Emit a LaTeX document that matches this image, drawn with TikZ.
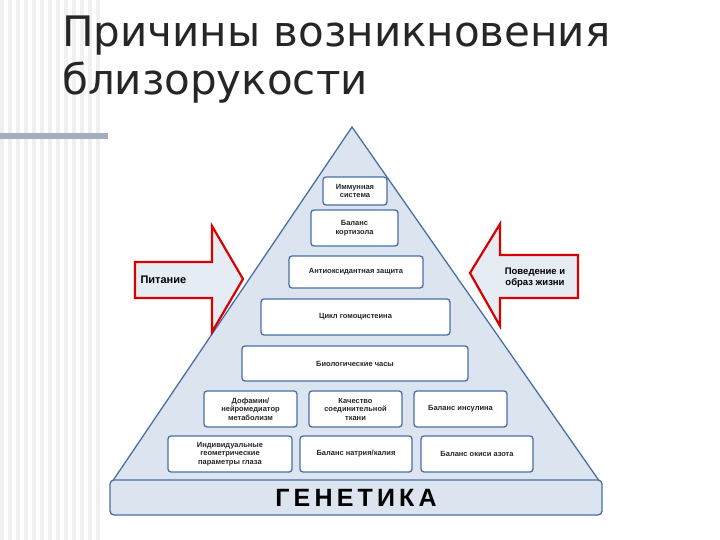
\documentclass[tikz,border=0pt]{standalone}
\usepackage{fontspec}
\setmainfont{DejaVu Sans}
\newfontfamily\liber{Liberation Sans}
\definecolor{edge}{HTML}{4A6FA5}
\definecolor{pyr}{HTML}{DCE4F0}
\begin{document}
\begin{tikzpicture}[x=1pt,y=-1pt,
  bx/.style={draw=edge, line width=1.3pt, rounded corners=3pt, fill=white, align=center, font=\liber\bfseries\fontsize{7.5}{8.5}\selectfont, inner sep=1pt, text=black!85},
  arr/.style={draw=red!85!black, line width=2.2pt, fill=pyr!70},
  lbl/.style={font=\liber\bfseries\fontsize{11}{12}\selectfont, align=center}]
\useasboundingbox (0,0) rectangle (720,540);
\fill[white] (0,0) rectangle (720,540);
\foreach \i in {0,...,12} \fill[gray!12] (\i*8,0) rectangle (\i*8+4,540);
\fill[white] (104,0) rectangle (720,540);
\fill[edge!50!gray!60] (0,133) rectangle (108,139);
\node[anchor=north west, font=\fontsize{42}{48}\selectfont, align=left, text=black!85, inner sep=0] (title) at (62,16) {Причины возникновения\\близорукости};
\coordinate (apex) at (352,127);
\coordinate (bl) at (112,482);
\coordinate (br) at (600,482);
\filldraw[fill=pyr, draw=edge, line width=1.3pt] (apex) -- (bl) -- (br) -- cycle;
\node[bx, minimum width=64, minimum height=28] (b1) at (355,191) {Иммунная\\система};
\node[bx, minimum width=87, minimum height=36] (b2) at (354.5,228) {Баланс\\кортизола};
\node[bx, minimum width=134, minimum height=32] (b3) at (356,272) {Антиоксидантная защита};
\node[bx, minimum width=189, minimum height=36] (b4) at (355.5,317) {Цикл гомоцистеина};
\node[bx, minimum width=226, minimum height=35] (b5) at (355,363.5) {Биологические часы};
\node[bx, minimum width=93, minimum height=36] (b6) at (250.5,409) {Дофамин/\\нейромедиатор\\метаболизм};
\node[bx, minimum width=93, minimum height=36] (b7) at (355.5,409) {Качество\\соединительной\\ткани};
\node[bx, minimum width=93, minimum height=36] (b8) at (460.5,409) {Баланс инсулина};
\node[bx, minimum width=124, minimum height=36] (b9) at (230,454) {Индивидуальные\\геометрические\\параметры глаза};
\node[bx, minimum width=112, minimum height=36] (b10) at (356,454) {Баланс натрия/калия};
\node[bx, minimum width=112, minimum height=36] (b11) at (477,454) {Баланс окиси азота};
\node[draw=edge, line width=1.3pt, fill=pyr, rounded corners=4pt, minimum width=492, minimum height=35, font=\liber\bfseries\fontsize{25}{28}\selectfont] (gen) at (356,497.5) {Г\,Е\,Н\,Е\,Т\,И\,К\,А};
\draw[arr] (135,262) -- (212,262) -- (212,226) -- (243,279) -- (212,332) -- (212,298) -- (135,298) -- cycle;
\node[lbl, anchor=west] (pit) at (137,280) {Питание};
\draw[arr] (578,255) -- (500,255) -- (500,224) -- (470,273) -- (500,326) -- (500,298) -- (578,298) -- cycle;
\node[lbl, font=\liber\bfseries\fontsize{9.5}{11}\selectfont] (pov) at (535,278) {Поведение и\\образ жизни};
\end{tikzpicture}
\end{document}
